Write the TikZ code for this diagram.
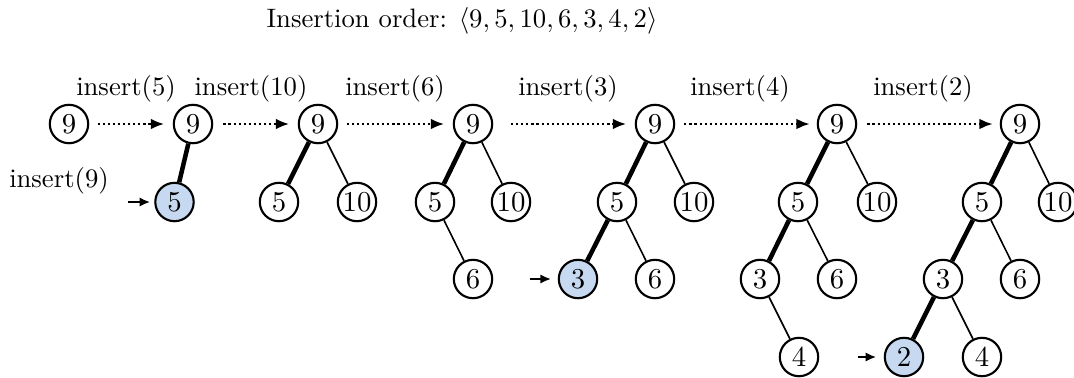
\documentclass[tikz,border=0pt]{standalone}
\usetikzlibrary{arrows.meta}
\definecolor{hl}{RGB}{198,217,240}
\tikzset{
  bst/.style={circle, draw, line width=0.8pt, minimum size=14.4pt, inner sep=0pt, font=\fontsize{10.8pt}{13pt}\selectfont},
  newkey/.style={bst, fill=hl},
  thinedge/.style={line width=0.6pt},
  hotedge/.style={line width=1.7pt},
  stepflow/.style={dash pattern={on 0.8pt off 1.1pt}, line width=0.9pt, -{Latex[length=5pt,width=4pt]}, shorten <=3.2pt, shorten >=3.2pt},
  ptr/.style={line width=0.9pt, -{Latex[length=4pt,width=3.5pt]}, shorten >=1.5pt},
  lbl/.style={inner sep=0pt}
}
\begin{document}
\begin{tikzpicture}[x=0.375pt,y=-0.375pt]
\useasboundingbox (0,0) rectangle (1074,377);
% title
\node[lbl] (title) at (462,21) {Insertion order: $\langle 9, 5, 10, 6, 3, 4, 2\rangle$};
% labels
\node[lbl] (l9) at (59,181) {insert(9)};
\node[lbl] (l5) at (126,89) {insert(5)};
\node[lbl] (l10) at (251,89) {insert(10)};
\node[lbl] (l6) at (395,89) {insert(6)};
\node[lbl] (l3) at (568,89) {insert(3)};
\node[lbl] (l4) at (740,89) {insert(4)};
\node[lbl] (l2) at (923,89) {insert(2)};
% tree 1
\node[bst] (a9) at (69,124) {9};
% tree 2
\node[bst] (b9) at (193,124) {9};
\node[newkey] (b5) at (174.5,202) {5};
% tree 3
\node[bst] (c9) at (318,124) {9};
\node[bst] (c5) at (279,202) {5};
\node[bst] (c10) at (357,202) {10};
% tree 4
\node[bst] (d9) at (473,124) {9};
\node[bst] (d5) at (435,202) {5};
\node[bst] (d10) at (511,202) {10};
\node[bst] (d6) at (473,279) {6};
% tree 5
\node[bst] (e9) at (655,124) {9};
\node[bst] (e5) at (617,202) {5};
\node[bst] (e10) at (694,202) {10};
\node[newkey] (e3) at (578,279) {3};
\node[bst] (e6) at (655,279) {6};
% tree 6
\node[bst] (f9) at (837,124) {9};
\node[bst] (f5) at (798,202) {5};
\node[bst] (f10) at (877,202) {10};
\node[bst] (f3) at (760,279) {3};
\node[bst] (f6) at (837,279) {6};
\node[bst] (f4) at (799,357) {4};
% tree 7
\node[bst] (g9) at (1020,124) {9};
\node[bst] (g5) at (982,202) {5};
\node[bst] (g10) at (1058,202) {10};
\node[bst] (g3) at (943,279) {3};
\node[bst] (g6) at (1020,279) {6};
\node[newkey] (g2) at (904,357) {2};
\node[bst] (g4) at (982,357) {4};
% edges
\draw[hotedge] (b9) -- (b5);
\draw[hotedge] (c9) -- (c5);
\draw[thinedge] (c9) -- (c10);
\draw[hotedge] (d9) -- (d5);
\draw[thinedge] (d9) -- (d10);
\draw[thinedge] (d5) -- (d6);
\draw[hotedge] (e9) -- (e5);
\draw[thinedge] (e9) -- (e10);
\draw[hotedge] (e5) -- (e3);
\draw[thinedge] (e5) -- (e6);
\draw[hotedge] (f9) -- (f5);
\draw[thinedge] (f9) -- (f10);
\draw[hotedge] (f5) -- (f3);
\draw[thinedge] (f5) -- (f6);
\draw[thinedge] (f3) -- (f4);
\draw[hotedge] (g9) -- (g5);
\draw[thinedge] (g9) -- (g10);
\draw[hotedge] (g5) -- (g3);
\draw[thinedge] (g5) -- (g6);
\draw[hotedge] (g3) -- (g2);
\draw[thinedge] (g3) -- (g4);
% step arrows
\draw[stepflow] (a9) -- (b9);
\draw[stepflow, shorten <=3.8pt] (b9) -- (c9);
\draw[stepflow] (c9) -- (d9);
\draw[stepflow, shorten <=6.7pt] (d9) -- (e9);
\draw[stepflow, shorten <=3.4pt, shorten >=2.6pt] (e9) -- (f9);
\draw[stepflow, shorten <=3.8pt, shorten >=2.6pt] (f9) -- (g9);
% pointers to new keys
\coordinate (pb) at (128,202);
\coordinate (pe) at (530,279);
\coordinate (pg) at (858,357);
\draw[ptr] (pb) -- (b5);
\draw[ptr, shorten >=2.5pt] (pe) -- (e3);
\draw[ptr, shorten >=2.8pt] (pg) -- (g2);
\end{tikzpicture}
\end{document}
